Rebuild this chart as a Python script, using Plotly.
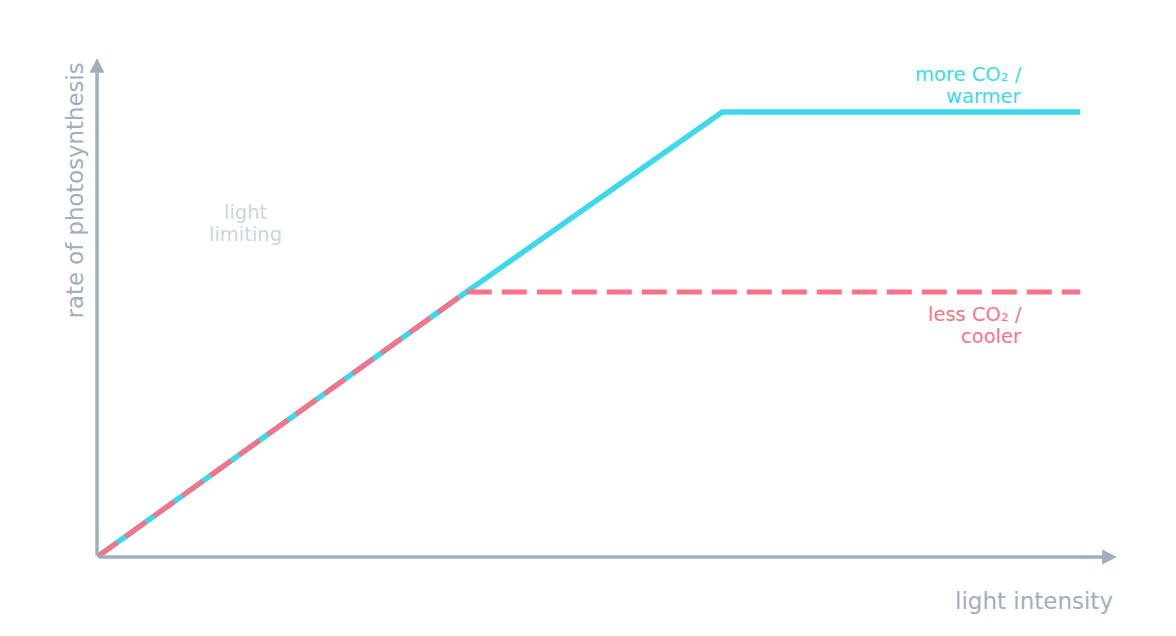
"""Light intensity vs rate of photosynthesis, two limiting-factor curves."""

import plotly.graph_objects as go

# --- data (axis units 0..10) ---
warm_x = [0, 3.62, 6.13, 9.64]
warm_y = [0, 5.31, 8.92, 8.92]
cool_x = [0, 3.62, 9.64]
cool_y = [0, 5.31, 5.31]

CYAN = "#3dd9eb"
ROSE = "#fb7185"
AXIS = "#a0aec0"
FAINT = "#cbd5e0"
FONT = "DejaVu Sans"

fig = go.Figure()
fig.add_trace(go.Scatter(
    x=warm_x, y=warm_y, mode="lines", name="more CO₂ / warmer",
    line=dict(color=CYAN, width=5.5),
))
fig.add_trace(go.Scatter(
    x=cool_x, y=cool_y, mode="lines", name="less CO₂ / cooler",
    line=dict(color=ROSE, width=5, dash="25px,10px"),
))

# axis arrows
arrow = dict(
    showarrow=True, arrowhead=2, arrowsize=0.85, arrowwidth=3.5,
    arrowcolor=AXIS, text="", xref="x", yref="y", axref="x", ayref="y",
)
fig.add_annotation(x=10, y=0, ax=0, ay=0, **arrow)
fig.add_annotation(x=0, y=10, ax=0, ay=0, **arrow)


def label(lines, x, ys, color, anchor="right"):
    for text, y in zip(lines, ys):
        fig.add_annotation(
            x=x, y=y, xref="x", yref="y", xanchor=anchor, yanchor="middle",
            text=text, showarrow=False,
            font=dict(family=FONT, size=19.5, color=color),
        )


label(["more CO₂ /", "warmer"], 9.09, [9.66, 9.22], CYAN)
label(["less CO₂ /", "cooler"], 9.09, [4.85, 4.41], ROSE)
label(["light", "limiting"], 1.46, [6.91, 6.47], FAINT, anchor="center")

# axis titles
fig.add_annotation(
    x=0.998, y=-0.088, xref="paper", yref="paper",
    xanchor="right", yanchor="middle",
    text="light intensity", showarrow=False,
    font=dict(family=FONT, size=23, color=AXIS),
)
fig.add_annotation(
    x=-0.0215, y=0.735, xref="paper", yref="paper",
    xanchor="center", yanchor="middle",
    text="rate of photosynthesis", showarrow=False, textangle=-90,
    font=dict(family=FONT, size=22.8, color=AXIS),
)

fig.update_xaxes(range=[0, 10], visible=False, fixedrange=True)
fig.update_yaxes(range=[0, 10], visible=False, fixedrange=True)
fig.update_layout(
    width=1160, height=620,
    margin=dict(l=89, r=51, t=50, b=71),
    paper_bgcolor="white", plot_bgcolor="white",
    showlegend=False,
)

fig.write_html("out.html")
